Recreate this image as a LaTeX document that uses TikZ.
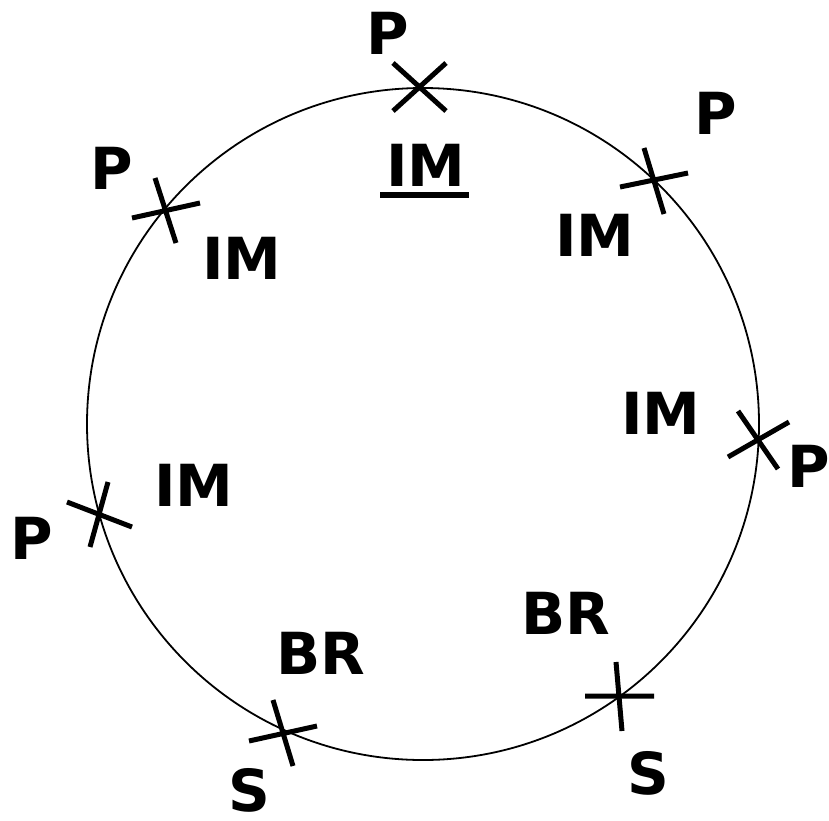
\documentclass[tikz,border=0pt]{standalone}
\usepackage{fontspec}
\setmainfont{DejaVu Sans}
\begin{document}
\begin{tikzpicture}[x=1pt,y=-1pt,
  lbl/.style={inner sep=0pt, font=\fontsize{58}{60}\selectfont\bfseries},
  crossbar/.style={line width=5pt},
  ring/.style={line width=1.8pt}]
\useasboundingbox (0,0) rectangle (829,820);
\draw[ring] (423,424) circle[radius=336];
% crosses
\draw[crossbar] (393,63) -- (446,111) (446,63) -- (393,111);
\draw[crossbar] (620,187) -- (688,173) (644,148) -- (664,214);
\draw[crossbar] (132,218) -- (200,203) (155,178) -- (176,243);
\draw[crossbar] (728,457) -- (789,422) (738,411) -- (778,469);
\draw[crossbar] (67,502) -- (132,527) (108,482) -- (90,547);
\draw[crossbar] (585,696) -- (654,696) (616,662) -- (622,731);
\draw[crossbar] (249,741) -- (317,726) (273,700) -- (293,766);
% labels
\node[lbl] (p1) at (388,33) {P};
\node[lbl] (im1) at (426,165) {IM};
\draw[line width=6pt] (380,195) -- (469,195);
\node[lbl] (p2) at (716,113) {P};
\node[lbl] (im2) at (595,235) {IM};
\node[lbl] (p3) at (112,168) {P};
\node[lbl] (im3) at (242,258) {IM};
\node[lbl] (im4) at (661,413) {IM};
\node[lbl] (p4) at (809,466) {P};
\node[lbl] (im5) at (194,485) {IM};
\node[lbl] (p5) at (32,538) {P};
\node[lbl] (br6) at (566,613) {BR};
\node[lbl] (s6) at (648,773) {S};
\node[lbl] (br7) at (321,653) {BR};
\node[lbl] (s7) at (249,790) {S};
\end{tikzpicture}
\end{document}
